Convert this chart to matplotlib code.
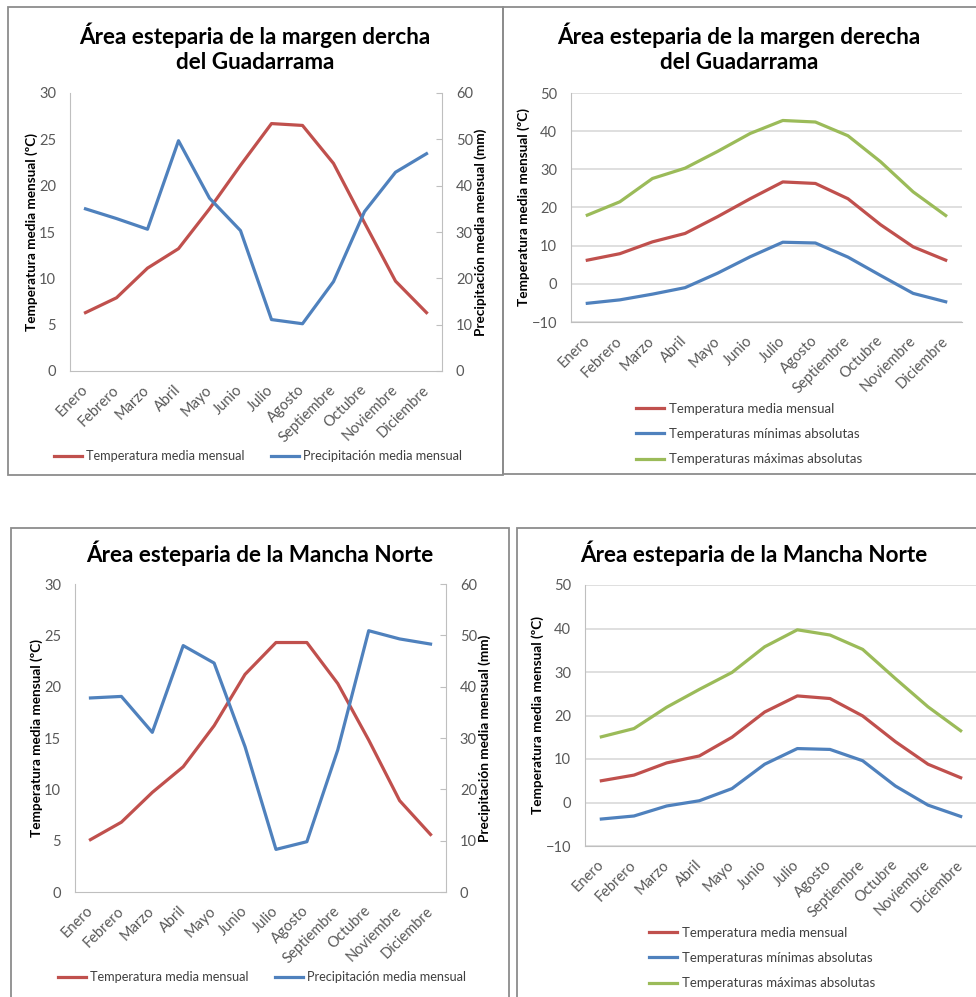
import matplotlib
matplotlib.use('Agg')
import matplotlib.pyplot as plt
from matplotlib.patches import Rectangle

# Datos
meses = ['Enero', 'Febrero', 'Marzo', 'Abril', 'Mayo', 'Junio', 'Julio',
         'Agosto', 'Septiembre', 'Octubre', 'Noviembre', 'Diciembre']

# Margen derecha del Guadarrama
guad_temp = [6.3, 7.9, 11.1, 13.2, 17.5, 22.2, 26.7, 26.5, 22.4, 16.0, 9.7, 6.3]
guad_prec = [35.0, 32.9, 30.6, 49.7, 37.3, 30.3, 11.1, 10.2, 19.3, 34.4, 42.9, 46.9]
guad_media = [6.2, 7.9, 11.0, 13.2, 17.6, 22.3, 26.7, 26.3, 22.3, 15.5, 9.7, 6.2]
guad_min = [-5.1, -4.2, -2.7, -1.0, 2.8, 7.1, 10.9, 10.7, 7.0, 2.2, -2.5, -4.7]
guad_max = [18.0, 21.5, 27.6, 30.3, 34.7, 39.4, 42.8, 42.4, 38.8, 32.0, 24.1, 17.9]

# Mancha Norte
mancha_temp = [5.1, 6.8, 9.7, 12.2, 16.2, 21.2, 24.3, 24.3, 20.3, 14.8, 8.9, 5.6]
mancha_prec = [37.8, 38.1, 31.1, 48.0, 44.6, 28.3, 8.3, 9.8, 27.7, 50.9, 49.3, 48.3]
mancha_media = [5.0, 6.3, 9.1, 10.7, 15.0, 20.8, 24.5, 23.9, 19.9, 14.0, 8.8, 5.7]
mancha_min = [-3.8, -3.1, -0.8, 0.4, 3.2, 8.8, 12.4, 12.2, 9.6, 3.8, -0.6, -3.2]
mancha_max = [15.1, 17.0, 21.9, 26.0, 29.9, 35.8, 39.7, 38.5, 35.2, 28.5, 22.0, 16.5]

titulo_guad = 'Área esteparia de la margen dercha\ndel Guadarrama'
titulo_guad2 = 'Área esteparia de la margen derecha\ndel Guadarrama'
titulo_mancha = 'Área esteparia de la Mancha Norte'

# Colores tipo Excel
ROJO = '#C0504D'
AZUL = '#4F81BD'
VERDE = '#9BBB59'
GRIS_EJE = '#BFBFBF'
GRIS_TXT = '#595959'

plt.rcParams['font.family'] = ['Lato', 'DejaVu Sans']

W, H = 976, 997
fig = plt.figure(figsize=(W / 100, H / 100), dpi=100, facecolor='white')


def caja(x0, y0, x1, y1):
    # convierte pixeles (origen arriba-izquierda) a fracciones de la figura
    return [x0 / W, 1 - y1 / H, (x1 - x0) / W, (y1 - y0) / H]


def marco(x0, y0, x1, y1):
    fig.add_artist(Rectangle((x0 / W, 1 - y1 / H), (x1 - x0) / W, (y1 - y0) / H,
                             transform=fig.transFigure, fill=False,
                             ec='#8C8C8C', lw=1.3))


def estilo_ejes(ax, ylim, yticks):
    ax.set_xlim(-0.5, 11.5)
    ax.set_ylim(*ylim)
    ax.set_yticks(yticks)
    ax.set_xticks(range(12))
    ax.set_xticklabels(meses, rotation=45, ha='right', va='center',
                       rotation_mode='anchor')
    for s in ['top', 'right']:
        ax.spines[s].set_visible(False)
    for s in ['left', 'bottom']:
        ax.spines[s].set_color(GRIS_EJE)
    ax.tick_params(axis='both', length=0, labelsize=10.5, colors=GRIS_TXT)
    ax.tick_params(axis='x', pad=12)
    ax.tick_params(axis='y', pad=10)


def panel_precip(rect, titulo, tx, ty, temp, prec, leg_y, leg_x):
    ax = fig.add_axes(caja(*rect))
    ax2 = ax.twinx()
    l1, = ax.plot(range(12), temp, color=ROJO, lw=2.3)
    l2, = ax2.plot(range(12), prec, color=AZUL, lw=2.3)
    estilo_ejes(ax, (0, 30), range(0, 31, 5))
    ax2.set_ylim(0, 60)
    ax2.set_yticks(range(0, 61, 10))
    for s in ['top', 'left', 'bottom']:
        ax2.spines[s].set_visible(False)
    ax2.spines['right'].set_color(GRIS_EJE)
    ax2.tick_params(axis='y', length=4, direction='in', color=GRIS_EJE,
                    labelsize=10.5, labelcolor=GRIS_TXT, pad=10)
    ax.set_ylabel('Temperatura media mensual (ºC)', fontsize=9.8,
                  fontweight='bold', labelpad=1)
    ax2.set_ylabel('Precipitación media mensual (mm)', fontsize=9.8,
                   fontweight='bold', labelpad=1)
    fig.text(tx / W, 1 - ty / H, titulo, ha='center', va='center',
             fontsize=16.2, fontweight='bold', linespacing=1.25)
    fig.legend([l1, l2], ['Temperatura media mensual', 'Precipitación media mensual'],
               loc='center', bbox_to_anchor=(leg_x / W, 1 - leg_y / H), ncol=2,
               frameon=False, fontsize=9.2, handlelength=2.2, columnspacing=2.0,
               handletextpad=0.35, labelcolor='#404040')


def panel_extremos(rect, titulo, tx, ty, media, tmin, tmax, leg_x, leg_y):
    ax = fig.add_axes(caja(*rect))
    l1, = ax.plot(range(12), media, color=ROJO, lw=2.3)
    l2, = ax.plot(range(12), tmin, color=AZUL, lw=2.3)
    l3, = ax.plot(range(12), tmax, color=VERDE, lw=2.3)
    estilo_ejes(ax, (-10, 50), range(-10, 51, 10))
    ax.yaxis.grid(True, color='#D9D9D9', lw=1.2)
    ax.set_axisbelow(True)
    ax.set_ylabel('Temperatura media mensual (ºC)', fontsize=9.8,
                  fontweight='bold', labelpad=1)
    fig.text(tx / W, 1 - ty / H, titulo, ha='center', va='center',
             fontsize=16.2, fontweight='bold', linespacing=1.25)
    fig.legend([l1, l2, l3], ['Temperatura media mensual',
                              'Temperaturas mínimas absolutas',
                              'Temperaturas máximas absolutas'],
               loc='upper left', bbox_to_anchor=(leg_x / W, 1 - leg_y / H),
               ncol=1, frameon=False, fontsize=9.5, handlelength=2.1,
               handletextpad=0.4, labelspacing=1.0, labelcolor='#404040')


# Marcos de cada grafico
marco(8, 7, 503, 475)
marco(503, 7, 990, 474)
marco(11, 528, 509, 1010)
marco(517, 528, 990, 1010)

panel_precip((70, 93, 442, 371), titulo_guad, 255, 48, guad_temp, guad_prec, 456, 258)
panel_extremos((571, 93, 962, 322), titulo_guad2, 739, 48, guad_media, guad_min, guad_max, 624, 391)
panel_precip((75, 584, 446, 892), titulo_mancha, 260, 553, mancha_temp, mancha_prec, 977, 262)
panel_extremos((585, 585, 977, 846), titulo_mancha, 754, 553, mancha_media, mancha_min, mancha_max, 637, 915)

fig.savefig('out.png', dpi=100, facecolor='white')
